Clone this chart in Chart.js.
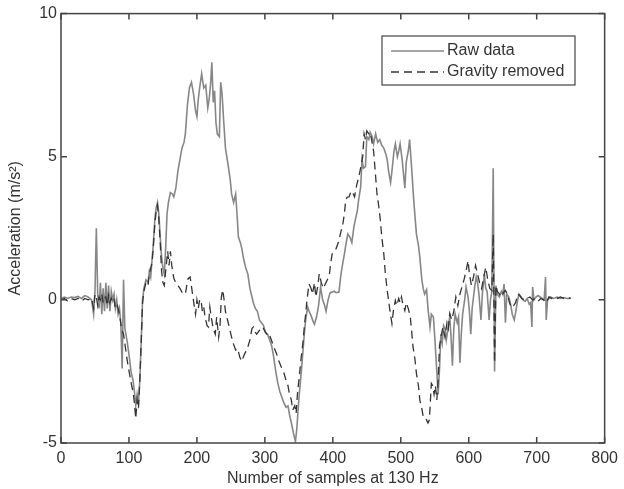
<!DOCTYPE html>
<html>
<head>
<meta charset="utf-8">
<script src="https://cdn.jsdelivr.net/npm/chart.js@4.4.1/dist/chart.umd.min.js"></script>
<style>
  html, body { margin: 0; padding: 0; background: #fff; }
  #wrap { width: 624px; height: 489px; position: relative; }
</style>
</head>
<body>
<div id="wrap"><canvas id="myChart"></canvas></div>
<script>
// samples (x) and acceleration (y)
const rawX = [0,5,10,15,20,25,30,35,40,45,48,50,52,54,56,58,60,62,64,66,68,70,72,74,76,78,80,82,84,86,88,90,92,94,97,100,103,106,108,110,112,114,116,118,120,122,125,128,130,132,134,136,138,140,142,144,146,148,150,152,154,156,158,161,164,166,169,172,175,178,181,183,186,189,192,195,198,200,202,204,207,210,213,216,218,220,222,224,226,228,230,233,235,237,239,242,246,249,251,254,257,259,261,264,266,269,272,275,278,281,283,286,289,292,295,298,301,304,307,310,313,316,319,322,325,328,331,334,337,339,342,345,347,349,351,354,356,358,360,363,365,368,371,373,376,379,382,385,388,390,393,396,399,402,405,409,412,414,417,419,422,425,428,431,434,436,438,441,443,445,448,450,453,455,458,460,463,466,469,472,475,478,480,482,485,487,490,492,495,497,499,502,504,506,508,511,513,516,519,521,523,526,528,531,533,535,538,540,543,545,548,550,552,555,557,559,561,563,565,567,570,572,574,576,578,580,583,585,587,589,591,594,596,599,601,603,605,607,609,611,613,615,618,620,623,625,627,630,632,634,636,638,640,642,645,648,650,652,654,656,659,662,664,667,670,672,674,677,680,683,686,689,691,693,694,696,699,702,705,708,711,713,714,716,720,725,730,735,740,745,750];
const rawY = [0.05,0.1,0.05,0.1,0.08,0.12,0.05,0.15,0.1,0.0,-0.5,0.3,2.5,0.2,-0.3,0.6,-0.5,0.4,-0.4,0.6,-0.3,0.5,-0.4,0.3,0.0,0.2,-0.3,0.0,-0.5,-0.3,-0.8,-2.4,0.7,-1.0,-1.4,-1.9,-2.5,-2.8,-3.2,-3.7,-3.3,-3.6,-2.8,-1.5,0.0,0.4,0.7,0.6,1.0,0.8,1.4,2.0,2.8,3.2,3.4,3.0,2.2,1.5,1.1,0.9,1.8,3.0,3.4,3.75,3.7,3.6,3.9,4.5,4.9,5.3,5.5,5.8,6.8,7.4,7.6,7.2,6.6,6.4,7.0,7.4,7.9,7.4,7.5,6.7,7.0,7.5,8.3,6.9,7.3,6.2,5.8,5.7,7.6,7.2,6.4,5.3,4.7,4.2,3.7,3.4,3.7,3.0,2.2,2.0,1.8,1.4,1.1,0.9,0.4,0.1,-0.1,-0.3,-0.4,-0.7,-0.8,-0.9,-1.15,-1.2,-1.4,-1.6,-2.0,-2.5,-2.9,-3.2,-3.4,-3.6,-3.75,-3.7,-4.1,-4.3,-4.65,-4.95,-4.5,-3.8,-3.2,-2.4,-1.8,-1.2,-0.7,-0.25,-0.4,-0.55,-0.75,-0.85,-0.6,-0.2,0.45,0.0,-0.2,-0.4,0.0,0.25,0.27,0.3,0.25,0.27,0.9,1.2,1.6,1.9,2.3,2.2,2.0,2.55,2.9,3.1,3.5,3.95,4.9,4.6,4.65,5.7,5.6,5.85,5.7,5.45,5.8,5.5,5.6,5.4,5.3,5.1,4.9,4.5,4.1,4.5,5.2,5.45,5.0,5.2,5.45,4.9,4.4,3.9,4.8,5.2,5.6,4.6,3.5,2.9,2.3,1.9,1.5,0.7,0.4,0.2,0.35,-0.3,-0.95,-0.5,-0.6,-1.3,-2.1,-3.3,-2.4,-1.2,-1.5,-0.9,-1.0,-1.4,-0.9,-0.6,-1.3,-2.3,-1.0,-0.5,-0.8,-0.6,-2.2,-1.2,-0.5,0.0,0.45,0.1,-0.4,-1.2,-0.3,0.1,0.5,0.8,0.6,0.2,-0.7,0.2,0.9,0.4,0.3,-0.7,0.0,0.3,4.6,-2.5,0.5,0.2,0.1,0.3,0.2,0.55,-0.8,0.2,0.1,-0.2,-0.5,-0.7,-0.3,0.0,0.2,0.1,0.0,-0.05,0.05,-0.15,-0.1,-0.95,0.45,0.0,0.1,0.15,0.1,0.05,0.0,0.8,-0.7,0.0,0.1,0.05,0.1,0.05,0.08,0.05,0.05];

const gravX = [0,5,10,15,20,25,30,35,40,45,48,50,52,54,56,58,60,62,64,66,68,70,72,74,76,78,80,83,86,89,92,95,98,101,104,106,108,110,112,114,116,118,120,122,125,128,130,132,134,136,138,140,142,144,146,148,150,152,154,157,159,161,163,166,169,172,175,178,181,183,185,187,190,193,196,198,200,202,204,206,208,210,212,215,217,219,221,224,227,229,232,234,236,238,240,242,245,248,251,254,257,260,263,266,269,272,275,278,281,283,285,288,291,294,297,300,303,305,308,311,314,317,320,324,328,331,334,336,339,341,344,346,348,351,353,356,358,360,362,365,368,370,373,375,378,380,383,386,389,392,395,397,399,402,405,409,412,414,417,419,421,424,427,429,432,435,438,440,442,444,446,448,450,453,455,457,460,462,465,468,470,472,475,477,480,482,484,487,489,492,494,497,499,501,503,506,508,511,514,516,518,521,523,526,528,531,533,536,538,540,542,545,547,549,551,553,555,557,560,562,565,568,570,572,575,578,581,584,587,590,593,596,599,601,604,607,610,613,616,619,622,625,628,631,634,636,638,640,642,645,648,651,654,657,660,663,666,669,672,675,678,682,686,690,694,698,702,706,710,714,718,722,726,730,735,740,745,750];
const gravY = [0.0,0.05,-0.05,0.05,0.0,0.05,-0.05,0.05,0.0,0.05,-0.3,0.2,0.1,-0.2,0.1,0.0,0.2,-0.1,0.05,0.1,-0.2,0.15,-0.1,0.05,-0.1,0.0,-0.3,-0.2,-0.5,-1.0,-1.2,-1.7,-2.2,-2.6,-3.0,-3.2,-3.6,-4.15,-3.5,-3.8,-2.8,-1.5,-0.1,0.3,0.6,0.5,0.9,1.1,1.3,1.9,2.6,3.1,3.3,2.8,2.0,1.0,0.6,0.5,1.0,1.7,1.2,1.7,1.2,0.75,0.6,0.5,0.4,0.27,0.2,0.2,0.5,0.74,0.8,0.3,-0.2,-0.5,0.0,-0.3,0.0,0.0,-0.4,-0.25,-0.6,-0.9,-0.95,-0.25,-0.6,-1.0,-1.2,-0.6,-1.3,-0.9,0.1,0.35,0.0,-0.4,-0.7,-1.0,-1.3,-1.55,-1.75,-1.7,-2.0,-2.15,-1.95,-1.8,-1.64,-1.4,-1.0,-0.95,-1.1,-1.2,-1.1,-1.0,-0.95,-1.1,-1.2,-1.15,-1.3,-1.5,-1.7,-1.87,-2.1,-2.34,-2.55,-2.8,-3.0,-3.27,-3.5,-3.85,-3.7,-3.97,-3.27,-2.6,-2.1,-1.5,-0.95,-0.5,0.0,0.56,0.4,0.2,0.6,0.1,0.5,0.91,0.6,0.4,0.56,0.7,0.9,1.3,1.6,1.7,1.8,2.07,2.4,2.54,3.0,3.5,3.58,3.6,3.8,3.75,3.6,4.0,4.28,4.5,4.75,5.0,5.8,5.6,5.9,5.8,5.85,5.6,5.2,4.6,3.7,3.2,2.77,2.2,1.61,1.0,0.33,0.0,-0.37,-0.83,-0.4,-0.02,-0.2,0.05,-0.1,0.1,-0.15,-0.37,-0.1,-0.3,-0.6,-1.1,-1.64,-2.1,-2.57,-3.0,-3.5,-3.8,-4.08,-4.1,-4.2,-4.3,-4.2,-2.92,-3.0,-3.3,-3.0,-3.5,-2.8,-1.6,-1.2,-0.95,-1.3,-0.8,-1.0,-0.48,-0.7,-0.4,0.1,-0.2,0.2,0.45,0.7,1.0,1.37,0.9,0.5,0.8,1.2,0.9,0.6,0.4,0.8,1.14,0.7,0.4,0.33,2.3,-2.2,0.5,0.3,0.21,0.1,0.25,0.33,0.2,-0.1,-0.27,-0.2,-0.1,0.2,0.15,0.05,0.0,0.05,0.1,0.0,0.05,-0.05,0.05,0.0,-0.1,0.1,0.05,0.1,0.05,0.1,0.05,0.1,0.05];

const xTicks = [0,100,200,300,400,500,600,700,800];
const yTicks = [-5,0,5,10];

const txtColor = '#333';
const fontFam = '"Liberation Sans", Arial, sans-serif';

// box round the plot, matlab style ticks pointing inward, legend box
const frameTicks = {
  id: 'frameTicks',
  afterDraw(chart) {
    const ctx = chart.ctx;
    const a = chart.chartArea;
    const sx = chart.scales.x, sy = chart.scales.y;
    ctx.save();
    ctx.strokeStyle = '#444';
    ctx.lineWidth = 1.5;
    ctx.strokeRect(a.left, a.top, a.right - a.left, a.bottom - a.top);
    const tl = 6;
    ctx.beginPath();
    xTicks.forEach(v => {
      const px = sx.getPixelForValue(v);
      ctx.moveTo(px, a.bottom); ctx.lineTo(px, a.bottom - tl);
      ctx.moveTo(px, a.top); ctx.lineTo(px, a.top + tl);
    });
    yTicks.forEach(v => {
      const py = sy.getPixelForValue(v);
      ctx.moveTo(a.left, py); ctx.lineTo(a.left + tl, py);
      ctx.moveTo(a.right, py); ctx.lineTo(a.right - tl, py);
    });
    ctx.stroke();

    // legend
    const bx = 382, by = 36, bw = 193, bh = 49;
    ctx.fillStyle = '#fff';
    ctx.fillRect(bx, by, bw, bh);
    ctx.lineWidth = 1.2;
    ctx.strokeStyle = '#444';
    ctx.strokeRect(bx, by, bw, bh);
    ctx.font = '16px ' + fontFam;
    ctx.textBaseline = 'middle';
    chart.data.datasets.forEach((ds, i) => {
      const y = by + 15 + i * 21;
      ctx.beginPath();
      ctx.strokeStyle = ds.borderColor;
      ctx.lineWidth = ds.borderWidth;
      ctx.setLineDash(ds.borderDash || []);
      ctx.moveTo(bx + 9, y); ctx.lineTo(bx + 62, y);
      ctx.stroke();
      ctx.setLineDash([]);
      ctx.fillStyle = txtColor;
      ctx.fillText(ds.label, bx + 65, y);
    });
    ctx.restore();
  }
};

const el = document.getElementById('myChart');
new Chart(el, {
  type: 'line',
  data: {
    datasets: [{
      label: 'Raw data',
      data: rawX.map((x, i) => ({ x: x, y: rawY[i] })),
      borderColor: '#878787',
      borderWidth: 1.6,
      pointRadius: 0,
      tension: 0,
      order: 1
    },
    {
      label: 'Gravity removed',
      data: gravX.map((x, i) => ({ x: x, y: gravY[i] })),
      borderColor: '#333333',
      borderWidth: 1.3,
      borderDash: [8, 5],
      pointRadius: 0,
      tension: 0,
      order: 0
    }]
  },
  options: {
    responsive: true,
    maintainAspectRatio: false,
    animation: false,
    layout: { padding: { top: 13, right: 14, left: 0, bottom: 0 } },
    plugins: {
      legend: { display: false },
      tooltip: { enabled: false }
    },
    scales: {
      x: {
        type: 'linear',
        min: 0, max: 800,
        afterFit(s) { s.height = 46; },
        afterBuildTicks(s) { s.ticks = xTicks.map(v => ({ value: v })); },
        grid: { display: false, drawTicks: false },
        border: { display: false },
        ticks: { color: txtColor, padding: 6, maxRotation: 0, font: { size: 16, family: fontFam } },
        title: {
          display: true,
          text: 'Number of samples at 130 Hz',
          color: txtColor,
          padding: { top: 0, bottom: 1 },
          font: { size: 16, family: fontFam }
        }
      },
      y: {
        min: -5, max: 10,
        afterFit(s) { s.width = 61; },
        afterBuildTicks(s) { s.ticks = yTicks.map(v => ({ value: v })); },
        grid: { display: false, drawTicks: false },
        border: { display: false },
        ticks: { color: txtColor, padding: 4, font: { size: 16, family: fontFam } },
        title: {
          display: true,
          text: 'Acceleration (m/s²)',
          color: txtColor,
          padding: { top: 6, bottom: 0 },
          font: { size: 16, family: fontFam }
        }
      }
    }
  },
  plugins: [frameTicks]
});
</script>
</body>
</html>
